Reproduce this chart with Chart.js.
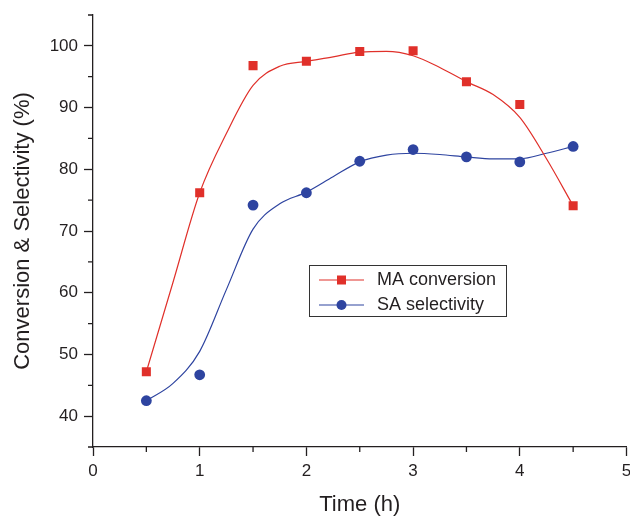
<!DOCTYPE html>
<html>
<head>
<meta charset="utf-8">
<script src="https://cdn.jsdelivr.net/npm/chart.js@4.4.0/dist/chart.umd.min.js"></script>
<style>
  body { margin: 0; background: #fff; }
  #chart { display: block; }
</style>
</head>
<body>
<canvas id="chart" width="630" height="516"></canvas>
<script>
// measured points
const hours = [0.5, 1, 1.5, 2, 2.5, 3, 3.5, 4, 4.5];
const maConversion = [47.2, 76.2, 96.8, 97.5, 99.1, 99.2, 94.2, 90.5, 74.1];
const saSelectivity = [42.5, 46.7, 74.2, 76.2, 81.3, 83.2, 82.0, 81.2, 83.7];

// smooth fitted curves
const fitHours = [0.5, 0.75, 1, 1.25, 1.5, 1.75, 2, 2.25, 2.5, 2.75, 3, 3.25, 3.5, 3.75, 4, 4.25, 4.5];
const maFit = [47.2, 61.7, 76.2, 85.8, 93.6, 96.7, 97.5, 98.2, 99.0, 99.1, 98.4, 96.5, 94.2, 92.1, 88.4, 81.7, 74.1];
const saFit = [42.5, 45.3, 50.5, 60.5, 70.3, 74.4, 76.3, 78.8, 81.2, 82.3, 82.6, 82.4, 82.0, 81.7, 81.7, 82.6, 83.7];

// axis ticks
const xTicks = [0, 0.5, 1, 1.5, 2, 2.5, 3, 3.5, 4, 4.5, 5];
const yTicks = [35, 40, 45, 50, 55, 60, 65, 70, 75, 80, 85, 90, 95, 100, 105];

const red = "#e0302a";
const blue = "#2e44a0";
const ink = "#231f20";
const font = "'Liberation Sans', Arial, Helvetica, sans-serif";

const pairs = (xs, ys) => xs.map((x, i) => ({x: x, y: ys[i]}));
const isMajor = (v, step) => Math.abs(v / step - Math.round(v / step)) < 1e-6;

//short minor ticks + framed legend
const extras = {
    id: "extras",
    afterDraw(chart) {
        const ctx = chart.ctx;
        const xs = chart.scales.x, ys = chart.scales.y;
        ctx.save();
        ctx.strokeStyle = ink;
        ctx.lineWidth = 1.3;
        ctx.beginPath();
        xTicks.filter(v => !isMajor(v, 1)).forEach(v => {
            const px = xs.getPixelForValue(v);
            ctx.moveTo(px, xs.top);
            ctx.lineTo(px, xs.top + 5);
        });
        yTicks.filter(v => !isMajor(v, 10)).forEach(v => {
            const py = ys.getPixelForValue(v);
            ctx.moveTo(ys.right, py);
            ctx.lineTo(ys.right - 5, py);
        });
        ctx.stroke();

        // legend box
        ctx.lineWidth = 1;
        ctx.strokeStyle = "#333";
        ctx.strokeRect(309.5, 265.5, 197, 51);
        const items = [
            {label: chart.data.datasets[0].label, color: red, style: "rect", y: 280},
            {label: chart.data.datasets[2].label, color: blue, style: "circle", y: 305}
        ];
        items.forEach(it => {
            ctx.strokeStyle = it.color;
            ctx.lineWidth = 1.2;
            ctx.beginPath();
            ctx.moveTo(319, it.y);
            ctx.lineTo(364, it.y);
            ctx.stroke();
            ctx.fillStyle = it.color;
            if (it.style === "rect") {
                ctx.fillRect(337, it.y - 4.5, 9, 9);
            } else {
                ctx.beginPath();
                ctx.arc(341.5, it.y, 5, 0, Math.PI * 2);
                ctx.fill();
            }
            ctx.fillStyle = ink;
            ctx.font = "18px " + font;
            ctx.textBaseline = "middle";
            ctx.fillText(it.label, 377, it.y);
        });
        ctx.restore();
    }
};

new Chart(document.getElementById("chart"), {
    type: "scatter",
    plugins: [extras],
    data: {
        datasets: [
            {
                label: "MA conversion",
                data: pairs(hours, maConversion),
                pointStyle: "rect",
                pointRadius: 6.4,
                backgroundColor: red,
                borderColor: red,
                borderWidth: 0,
                showLine: false
            },
            {
                label: "MA fit",
                data: pairs(fitHours, maFit),
                showLine: true,
                cubicInterpolationMode: "monotone",
                pointRadius: 0,
                borderColor: red,
                borderWidth: 1.2
            },
            {
                label: "SA selectivity",
                data: pairs(hours, saSelectivity),
                pointStyle: "circle",
                pointRadius: 5.4,
                backgroundColor: blue,
                borderColor: blue,
                borderWidth: 0,
                showLine: false
            },
            {
                label: "SA fit",
                data: pairs(fitHours, saFit),
                showLine: true,
                cubicInterpolationMode: "monotone",
                pointRadius: 0,
                borderColor: blue,
                borderWidth: 1.2
            }
        ]
    },
    options: {
        responsive: false,
        animation: false,
        devicePixelRatio: 1,
        layout: { autoPadding: false, padding: { top: 15, right: 3.5, left: 0, bottom: 0 } },
        plugins: {
            legend: { display: false },
            tooltip: { enabled: false }
        },
        scales: {
            x: {
                type: "linear",
                min: 0,
                max: 5,
                afterBuildTicks: s => { s.ticks = xTicks.map(v => ({value: v})); },
                afterFit: s => {
                    s.height = 69;
                    // let the "5" hang over the edge like the original
                    s.paddingLeft = 0;
                    s.paddingRight = 0;
                },
                grid: {
                    drawOnChartArea: false,
                    drawTicks: true,
                    tickLength: 9,
                    tickWidth: 1.3,
                    tickColor: c => isMajor(c.tick.value, 1) ? ink : "rgba(0,0,0,0)"
                },
                border: { display: true, color: ink, width: 1.3 },
                ticks: {
                    autoSkip: false,
                    maxRotation: 0,
                    padding: 5,
                    color: ink,
                    font: { family: font, size: 17 },
                    callback: v => isMajor(v, 1) ? String(v) : ""
                },
                title: {
                    display: true,
                    text: "Time (h)",
                    color: ink,
                    padding: 0,
                    font: { family: font, size: 22, lineHeight: 1.0 }
                }
            },
            y: {
                min: 35,
                max: 105,
                afterBuildTicks: s => { s.ticks = yTicks.map(v => ({value: v})); },
                afterFit: s => {
                    s.width = 93;
                    s.paddingTop = 0;
                    s.paddingBottom = 0;
                },
                grid: {
                    drawOnChartArea: false,
                    drawTicks: true,
                    tickLength: 9,
                    tickWidth: 1.3,
                    tickColor: c => isMajor(c.tick.value, 10) ? ink : "rgba(0,0,0,0)"
                },
                border: { display: true, color: ink, width: 1.3 },
                ticks: {
                    autoSkip: false,
                    padding: 6,
                    color: ink,
                    font: { family: font, size: 17 },
                    callback: v => isMajor(v, 10) ? String(v) : ""
                },
                title: {
                    display: true,
                    text: "Conversion & Selectivity (%)",
                    color: ink,
                    padding: { top: 12, bottom: 0 },
                    font: { family: font, size: 22, lineHeight: 1.0 }
                }
            }
        }
    }
});
</script>
</body>
</html>
